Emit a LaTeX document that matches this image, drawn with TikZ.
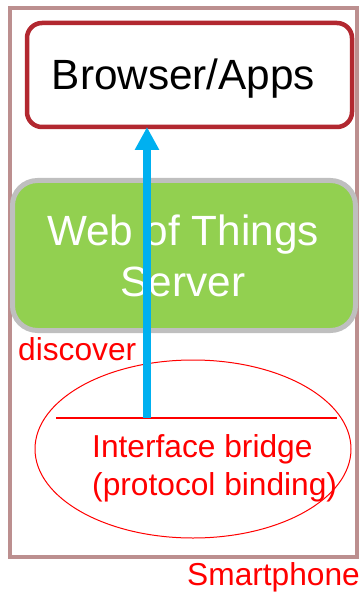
\documentclass[tikz,border=0pt]{standalone}
\usepackage{fontspec}
\setmainfont{Liberation Sans}
\usetikzlibrary{arrows.meta,shapes.geometric}
\definecolor{phonecol}{RGB}{188,143,143}
\definecolor{brred}{RGB}{178,40,48}
\definecolor{wotgreen}{RGB}{146,208,80}
\definecolor{wotgray}{RGB}{191,191,191}
\definecolor{arrowblue}{RGB}{0,176,240}
\begin{document}
\begin{tikzpicture}[x=1pt,y=-1pt,
  box/.style={rectangle,inner sep=0pt,outer sep=0pt},
  bigtext/.style={font=\fontsize{42.3}{51}\selectfont,inner sep=0pt},
  redtext/.style={font=\fontsize{31.7}{37}\selectfont,text=red,inner sep=0pt,anchor=base west},
  flow/.style={draw=arrowblue,line width=8pt,-{Triangle[length=23pt,width=23pt]}}]
\useasboundingbox (0,0) rectangle (360,593);
% smartphone frame
\node[box,draw=phonecol,line width=4.5pt,minimum width=347pt,minimum height=549pt] (phone) at (183.5,282.5) {};
% browser box
\node[box,draw=brred,line width=4.5pt,rounded corners=15pt,minimum width=325pt,minimum height=104pt] (browser) at (189.5,75) {};
\node[bigtext,anchor=base] (browsertxt) at (183.5,90) {Browser/Apps};
% WoT server
\node[box,draw=wotgray,fill=wotgreen,line width=5pt,rounded corners=25pt,minimum width=343pt,minimum height=150pt] (wot) at (184,255.5) {};
\node[bigtext,anchor=base,text=white] (wot1) at (183,245) {Web of Things};
\node[bigtext,anchor=base,text=white] (wot2) at (183,296) {Server};
% bridge
\node[ellipse,draw=red,line width=1pt,inner sep=0pt,minimum width=316pt,minimum height=178pt] (bridge) at (193,449) {};
\coordinate (la) at (56,418);
\coordinate (lb) at (337,418);
\coordinate (start) at (147,418);
\draw[red,line width=1.2pt] (la) -- (lb);
\node[redtext] (bridge1) at (92,457) {Interface bridge};
\node[redtext] (bridge2) at (92,495) {(protocol binding)};
\node[redtext] (discover) at (18,360) {discover};
\node[redtext] (phonelbl) at (187,585) {Smartphone};
% arrow
\draw[flow] (start) -- (start |- browser.south);
\end{tikzpicture}
\end{document}
